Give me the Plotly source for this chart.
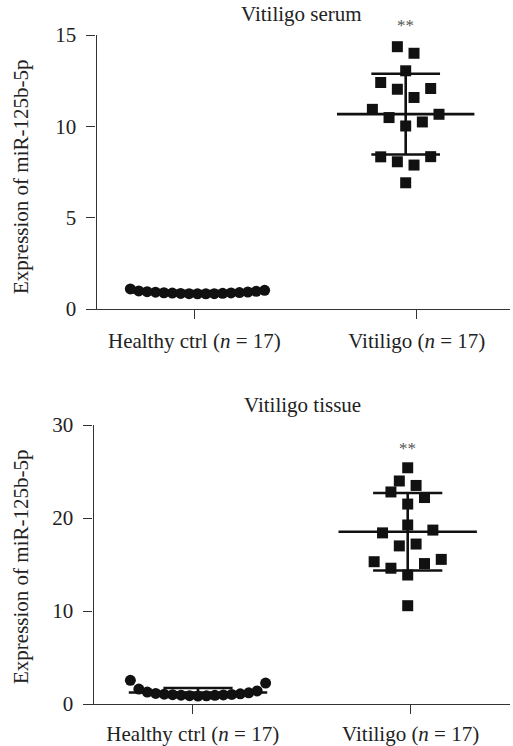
import numpy as np
import plotly.graph_objects as go

# ---------------- data ----------------
categories = ["Healthy ctrl (<i>n</i> = 17)", "Vitiligo (<i>n</i> = 17)"]
panel_titles = ["Vitiligo serum", "Vitiligo tissue"]
y_title = "Expression of miR-125b-5p"
significance = "**"

serum_healthy = [0.83, 0.83, 0.84, 0.84, 0.85, 0.86, 0.87, 0.88, 0.89,
                 0.90, 0.92, 0.93, 0.95, 0.97, 0.99, 1.02, 1.10]
serum_vitiligo = [6.91, 7.88, 8.06, 8.34, 8.33, 10.02, 10.24, 10.48, 10.66,
                  10.93, 11.58, 12.03, 12.07, 12.40, 13.04, 14.00, 14.36]
tissue_healthy = [0.85, 0.88, 0.90, 0.93, 0.95, 0.98, 1.00, 1.03, 1.06,
                  1.10, 1.14, 1.20, 1.28, 1.40, 1.60, 2.25, 2.55]
tissue_vitiligo = [10.57, 13.87, 15.10, 14.60, 15.55, 15.30, 17.20, 17.00, 18.70,
                   18.40, 19.25, 21.50, 22.20, 22.80, 23.50, 23.98, 25.40]
serum_ticks = [0, 5, 10, 15]
tissue_ticks = [0, 10, 20, 30]

# ---------------- helpers ----------------
FONT = "Liberation Serif"
INK = "#111111"
AXIS = "#333333"
TXT = "#222222"


def swarm_offsets(values, row_height, spacing, max_width):
    """GraphPad-like column scatter: bin values into rows, spread each row."""
    vals = np.asarray(values, float)
    order = np.argsort(vals, kind="stable")
    rows, current, start = [], [order[0]], vals[order[0]]
    for idx in order[1:]:
        if vals[idx] - start <= row_height:
            current.append(idx)
        else:
            rows.append(current)
            current, start = [idx], vals[idx]
    rows.append(current)
    offsets = np.zeros(len(vals))
    for row in rows:
        row = sorted(row)
        n = len(row)
        step = spacing if n == 1 else min(spacing, max_width / (n - 1))
        slots = [(j - (n - 1) / 2) * step for j in range(n)]
        slots.sort(key=lambda s: (round(abs(s), 9), -s))
        for idx, s in zip(row, slots):
            offsets[idx] = s
    return offsets


fig = go.Figure()


def add_panel(xa, ya, groups, symbols, yrange):
    rh = 0.0615 * (yrange[1] - yrange[0])
    for gi, (vals, sym) in enumerate(zip(groups, symbols)):
        v = np.asarray(vals, float)
        m, sd = v.mean(), v.std(ddof=1)
        fig.add_trace(go.Scatter(
            x=[gi - 0.33, gi + 0.33, None, gi - 0.165, gi + 0.165, None,
               gi - 0.165, gi + 0.165, None, gi, gi],
            y=[m, m, None, m + sd, m + sd, None, m - sd, m - sd, None, m - sd, m + sd],
            mode="lines", line=dict(color=INK, width=2.6),
            xaxis=xa, yaxis=ya, showlegend=False, hoverinfo="skip"))
        off = swarm_offsets(v, rh, 0.08, 0.645)
        fig.add_trace(go.Scatter(
            x=gi + off, y=v, mode="markers",
            marker=dict(symbol=sym, size=11, color=INK, line=dict(width=0)),
            xaxis=xa, yaxis=ya, showlegend=False))


add_panel("x", "y", [serum_healthy, serum_vitiligo], ["circle", "square"], (0, 15))
add_panel("x2", "y2", [tissue_healthy, tissue_vitiligo], ["circle", "square"], (0, 30))

W, H = 513, 746
FS = 21
tickfont = dict(family=FONT, size=FS, color=TXT)

axis_common = dict(showline=True, linecolor=AXIS, linewidth=1.3, ticks="outside",
                   ticklen=9, tickwidth=1.3, tickcolor=AXIS, showgrid=False,
                   zeroline=False, tickfont=tickfont, automargin=False)

fig.update_layout(
    template="none",
    width=W, height=H, autosize=False,
    margin=dict(l=0, r=0, t=0, b=0, pad=0),
    paper_bgcolor="white", plot_bgcolor="white",
    xaxis=dict(domain=[86 / W, 510 / W], range=[-0.5355, 1.501], anchor="y",
               tickmode="array", tickvals=[-0.015, 1.053], ticktext=categories,
               ticklabelstandoff=4, **axis_common),
    yaxis=dict(domain=[1 - 309 / H, 1 - 35 / H], range=[0, 15], anchor="free",
               position=95.5 / W, tickmode="array", tickvals=serum_ticks,
               ticklabelstandoff=6, **axis_common),
    xaxis2=dict(domain=[83 / W, 510 / W], range=[-0.5484, 1.4878], anchor="y2",
                tickmode="array", tickvals=[-0.025, 1.014], ticktext=categories,
                ticklabelstandoff=2, **axis_common),
    yaxis2=dict(domain=[1 - 704 / H, 1 - 425 / H], range=[0, 30], anchor="free",
                position=92.5 / W, tickmode="array", tickvals=tissue_ticks,
                ticklabelstandoff=6, **axis_common),
)


def note(text, x, y, xref="paper", size=FS, color=TXT, angle=0):
    return dict(text=text, xref=xref, x=x, yref="paper", y=y, showarrow=False,
                xanchor="center", yanchor="middle", textangle=angle,
                font=dict(family=FONT, size=size, color=color))


ann = [
    note(panel_titles[0], 0.5, 1 - 14 / H, xref="x"),
    note(panel_titles[1], 0.5, 1 - 405 / H, xref="x2"),
    note(y_title, 21 / W, 1 - 177 / H, angle=-90),
    note(y_title, 21 / W, 1 - 567 / H, angle=-90),
    note(significance, 1, 1 - 25 / H, xref="x", size=17, color="#555555"),
    note(significance, 1, 1 - 449 / H, xref="x2", size=17, color="#555555"),
]
fig.update_layout(annotations=ann)

fig.write_html(
    "out.html",
    config={"displayModeBar": False},
    post_script="document.body.style.margin='0';document.body.style.overflow='hidden';",
)
